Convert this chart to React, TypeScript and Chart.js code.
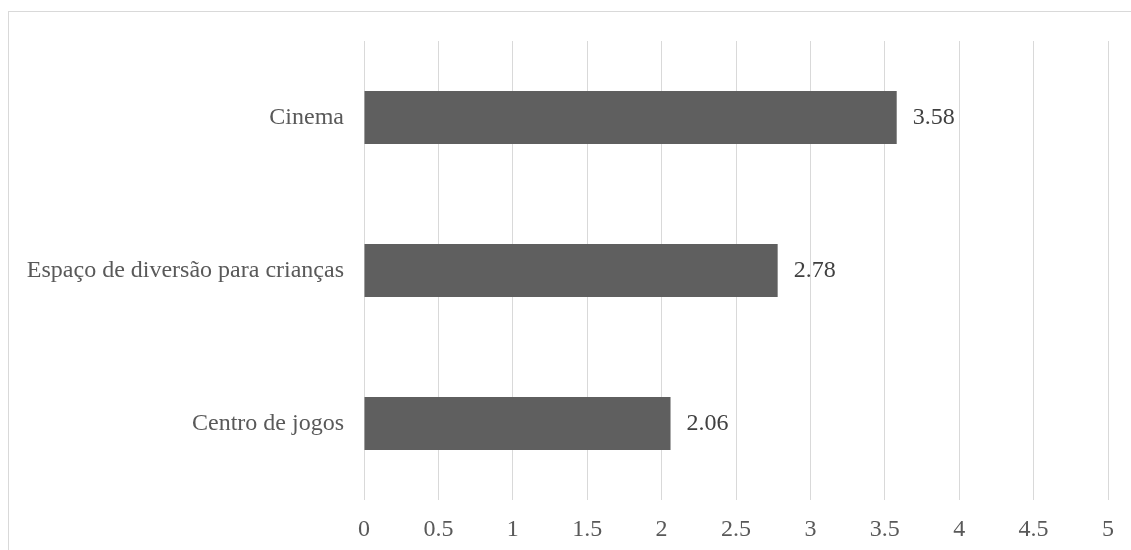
import React, { useEffect, useRef } from "react";
import { Chart, registerables } from "chart.js";

Chart.register(...registerables);

const categories = ["Cinema", "Espaço de diversão para crianças", "Centro de jogos"];
const values = [3.58, 2.78, 2.06];
const xTicks = [0, 0.5, 1, 1.5, 2, 2.5, 3, 3.5, 4, 4.5, 5];

const FONT = "'Liberation Serif', 'Times New Roman', serif";

const valueLabels = {
  id: "valueLabels",
  afterDatasetsDraw(chart: any) {
    const ctx = chart.ctx;
    const meta = chart.getDatasetMeta(0);
    ctx.save();
    ctx.font = `24px ${FONT}`;
    ctx.fillStyle = "#404040";
    ctx.textAlign = "left";
    ctx.textBaseline = "middle";
    meta.data.forEach((bar: any, i: number) => {
      ctx.fillText(String(values[i]), bar.x + 16, bar.y);
    });
    ctx.restore();
  },
};

export default function App() {
  const ref = useRef<HTMLCanvasElement | null>(null);
  useEffect(() => {
    if (!ref.current) return;
    const chart = new Chart(ref.current, {
      type: "bar",
      data: {
        labels: categories,
        datasets: [
          {
            data: values,
            backgroundColor: "#5f5f5f",
            borderWidth: 0,
            barPercentage: 0.346,
            categoryPercentage: 1,
          },
        ],
      },
      options: {
        indexAxis: "y",
        responsive: false,
        animation: false,
        layout: { padding: { left: 0, right: 23, top: 29, bottom: 0 } },
        plugins: { legend: { display: false }, tooltip: { enabled: false } },
        scales: {
          x: {
            min: 0,
            max: 5,
            afterBuildTicks: (scale: any) => {
              scale.ticks = xTicks.map((v) => ({ value: v }));
            },
            afterFit: (scale: any) => {
              scale.height = 50;
              scale.paddingLeft = 0;
              scale.paddingRight = 0;
            },
            grid: { color: "#d9d9d9", lineWidth: 1, drawTicks: false },
            border: { display: false },
            ticks: {
              padding: 15,
              color: "#595959",
              font: { family: FONT, size: 24 },
              callback: (v: any) => String(v),
            },
          },
          y: {
            afterFit: (scale: any) => {
              scale.width = 355;
              scale.paddingTop = 0;
              scale.paddingBottom = 0;
            },
            grid: { display: false, drawTicks: false },
            border: { display: false },
            ticks: {
              padding: 20,
              color: "#595959",
              font: { family: FONT, size: 24 },
            },
          },
        },
      },
      plugins: [valueLabels],
    });
    return () => chart.destroy();
  }, []);

  return (
    <div
      style={{
        position: "absolute",
        left: 8,
        top: 11,
        width: 1123,
        height: 539,
        borderTop: "1px solid #d9d9d9",
        borderLeft: "1px solid #d9d9d9",
        background: "#fff",
      }}
    >
      <canvas ref={ref} width={1122} height={538} style={{ display: "block", width: 1122, height: 538 }} />
    </div>
  );
}
